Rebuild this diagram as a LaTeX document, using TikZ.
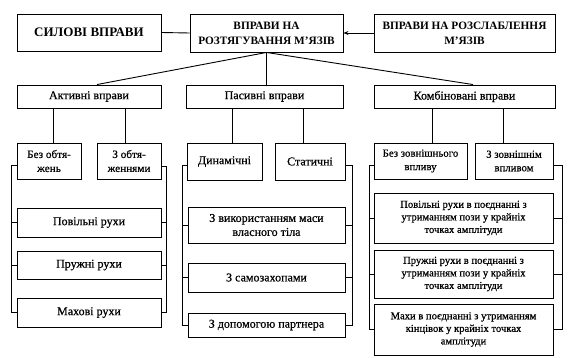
\documentclass[tikz,border=0pt]{standalone}
\usepackage{fontspec}
\setmainfont{Liberation Serif}
\newfontfamily\medfont[FakeBold=0.6]{Liberation Serif}
\usetikzlibrary{arrows.meta}
\begin{document}
\begin{tikzpicture}[x=1pt,y=-1pt,
  box/.style={draw,line width=0.9pt,inner sep=1pt,align=center,font=\medfont\fontsize{12}{14}\selectfont},
  topbox/.style={box,font=\bfseries\fontsize{11.3}{15}\selectfont},
  smallbox/.style={box,font=\medfont\fontsize{10.8}{13.5}\selectfont},
  kbox/.style={box,font=\medfont\fontsize{10.6}{12.6}\selectfont},
  conn/.style={line width=0.9pt}]
\useasboundingbox (0,0) rectangle (578,358);
% top row
\node[topbox,minimum width=144,minimum height=37,font=\bfseries\fontsize{13}{15}\selectfont] (sil) at (89,32.5) {СИЛОВІ ВПРАВИ};
\node[topbox,minimum width=153,minimum height=38] (roz) at (266.5,33) {ВПРАВИ НА\\РОЗТЯГУВАННЯ М’ЯЗІВ};
\node[topbox,minimum width=181,minimum height=38] (rel) at (464.5,33) {ВПРАВИ НА РОЗСЛАБЛЕННЯ\\М’ЯЗІВ};
% second row
\node[box,minimum width=144,minimum height=23] (akt) at (89,96.5) {Активні вправи};
\node[box,minimum width=157,minimum height=23] (pas) at (264.5,96.5) {Пасивні вправи};
\node[box,minimum width=181,minimum height=23] (kom) at (464.5,96.5) {Комбіновані вправи};
% third row
\node[box,minimum width=64,minimum height=36,font=\medfont\fontsize{11.2}{14}\selectfont] (bez) at (49,161) {Без обтя-\\жень};
\node[box,minimum width=64,minimum height=36,font=\medfont\fontsize{11.2}{14}\selectfont] (zob) at (129,161) {З обтя-\\женнями};
\node[box,minimum width=75,minimum height=37] (din) at (224.5,161.5) {Динамічні};
\node[box,minimum width=70,minimum height=37] (sta) at (310,161.5) {Статичні};
\node[smallbox,minimum width=93,minimum height=36] (bzv) at (420.5,161) {Без зовнішнього\\впливу};
\node[smallbox,minimum width=78,minimum height=36] (zzv) at (514,161) {З зовнішнім\\впливом};
% left column
\node[box,minimum width=144,minimum height=29] (pov) at (89,222.5) {Повільні рухи};
\node[box,minimum width=144,minimum height=28] (pru) at (89,265) {Пружні рухи};
\node[box,minimum width=144,minimum height=29] (mah) at (89,312.5) {Махові рухи};
% middle column
\node[box,minimum width=157,minimum height=36] (mas) at (266.5,225) {З використанням маси\\власного тіла};
\node[box,minimum width=157,minimum height=29] (sam) at (266.5,277.5) {З самозахопами};
\node[box,minimum width=157,minimum height=24] (par) at (266.5,325) {З допомогою партнера};
% right column
\node[kbox,minimum width=179,minimum height=50] (kp1) at (463.5,218) {Повільні рухи в поєднанні з\\утриманням пози у крайніх\\точках амплітуди};
\node[kbox,minimum width=179,minimum height=48] (kp2) at (463.5,274) {Пружні рухи в поєднанні з\\утриманням пози у крайніх\\точках амплітуди};
\node[kbox,minimum width=179,minimum height=51] (kp3) at (463.5,329.5) {Махи в поєднанні з утриманням\\кінцівок у крайніх точках\\амплітуди};
% connectors top
\draw[conn] (sil.east) -- (roz.west);
\draw[conn,-{Stealth[length=5pt,width=4pt]}] (rel.west) -- (roz.east);
\draw[conn] (roz.south) -- ([xshift=8pt]akt.north);
\draw[conn] (roz.south) -- (roz.south |- pas.north);
\draw[conn] (roz.south) -- ([xshift=8.5pt]kom.north);
% second to third
\draw[conn] ([xshift=4pt]bez.north) -- ([xshift=4pt]bez.north |- akt.south);
\draw[conn] ([xshift=-4pt]zob.north) -- ([xshift=-4pt]zob.north |- akt.south);
\draw[conn] ([xshift=7.5pt]din.north) -- ([xshift=7.5pt]din.north |- pas.south);
\draw[conn] ([xshift=-7pt]sta.north) -- ([xshift=-7pt]sta.north |- pas.south);
\draw[conn] ([xshift=11.5pt]bzv.north) -- ([xshift=11.5pt]bzv.north |- kom.south);
\draw[conn] ([xshift=-11pt]zzv.north) -- ([xshift=-11pt]zzv.north |- kom.south);
% left column brackets
\draw[conn] ([yshift=-4pt]bez.west) -| ([xshift=-5pt]mah.west) -- (mah.west);
\draw[conn] (pov.west) -- ++(-5pt,0);
\draw[conn] (pru.west) -- ++(-5pt,0);
\draw[conn] ([yshift=-5pt]zob.east) -| ([xshift=5pt]mah.east) -- (mah.east);
\draw[conn] (pov.east) -- ++(5pt,0);
\draw[conn] (pru.east) -- ++(5pt,0);
% middle column brackets
\draw[conn] ([yshift=-4pt]din.west) -| ([xshift=-5pt]par.west) -- (par.west);
\draw[conn] (mas.west) -- ++(-5pt,0);
\draw[conn] (sam.west) -- ++(-5pt,0);
\draw[conn] ([yshift=-4pt]sta.east) -| ([xshift=7pt]par.east) -- (par.east);
\draw[conn] (mas.east) -- ++(7pt,0);
\draw[conn] (sam.east) -- ++(7pt,0);
% right column brackets
\draw[conn] ([yshift=-4pt]bzv.west) -| ([xshift=-4pt]kp3.west) -- (kp3.west);
\draw[conn] (kp1.west) -- ++(-4pt,0);
\draw[conn] (kp2.west) -- ++(-4pt,0);
\draw[conn] ([yshift=-4pt]zzv.east) -| ([xshift=9pt]kp3.east) -- (kp3.east);
\draw[conn] (kp1.east) -- ++(9pt,0);
\draw[conn] (kp2.east) -- ++(9pt,0);
\end{tikzpicture}
\end{document}
